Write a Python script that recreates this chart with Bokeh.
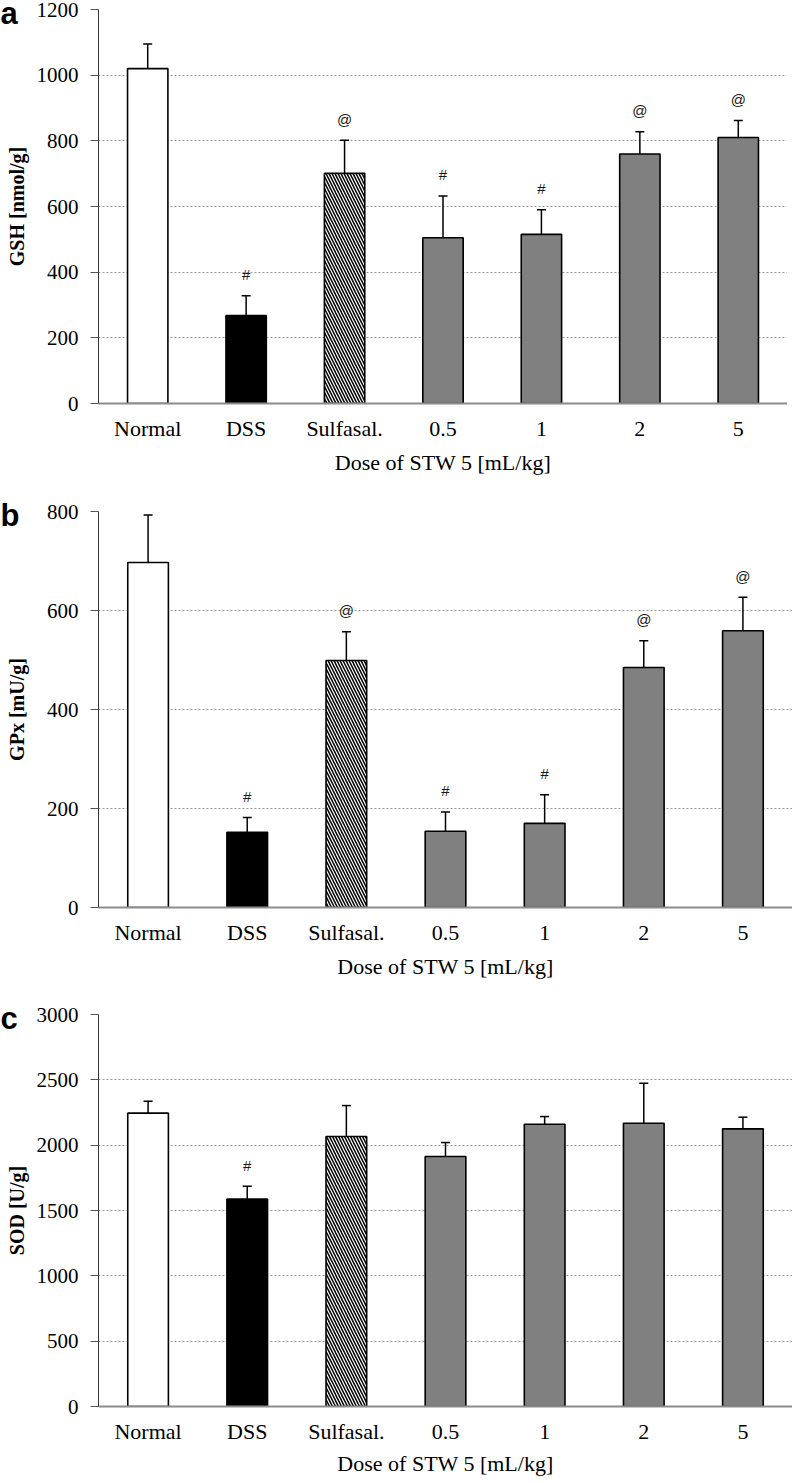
from bokeh.plotting import figure
from bokeh.models import FactorRange, Range1d, ColumnDataSource, Whisker, TeeHead, Title, FixedTicker
from bokeh.layouts import column
from bokeh.embed import file_html
from bokeh.resources import INLINE
from bokeh.core.properties import value

categories = ["Normal", "DSS", "Sulfasal.", "0.5", "1", "2", "5"]
fill_colors = ["white", "black", "white", "#808080", "#808080", "#808080", "#808080"]
hatches = [" ", " ", "\\", " ", " ", " ", " "]
dose_label = "Dose of STW 5 [mL/kg]"

gsh_mean = [1020, 268, 701, 505, 515, 760, 810]
gsh_err = [75, 60, 101, 127, 75, 68, 52]
gsh_marks = ["", "#", "@", "#", "#", "@", "@"]
gsh_ticks = [0, 200, 400, 600, 800, 1000, 1200]

gpx_mean = [697, 152, 499, 154, 170, 485, 559]
gpx_err = [96, 30, 58, 39, 58, 54, 68]
gpx_marks = ["", "#", "@", "#", "#", "@", "@"]
gpx_ticks = [0, 200, 400, 600, 800]

sod_mean = [2245, 1587, 2066, 1913, 2160, 2168, 2125]
sod_err = [91, 99, 237, 107, 59, 306, 89]
sod_marks = ["", "#", "", "", "", "", ""]
sod_ticks = [0, 500, 1000, 1500, 2000, 2500, 3000]


def make_panel(letter, ylabel, means, errs, marks, ticks,
               bl, fw, br, bt, fh, bb, ylab_standoff, dose_standoff):
    p = figure(x_range=FactorRange(factors=categories, range_padding=0),
               y_range=Range1d(ticks[0], ticks[-1]),
               frame_width=fw, frame_height=fh,
               min_border_left=bl, min_border_right=br,
               min_border_top=bt, min_border_bottom=bb,
               output_backend="svg", toolbar_location=None)
    p.outline_line_color = None
    p.xgrid.grid_line_color = None
    p.ygrid.grid_line_color = "#9a9a9a"
    p.ygrid.grid_line_dash = "2 2"
    p.ygrid.grid_line_width = 1

    upper = [m + e for m, e in zip(means, errs)]
    src = ColumnDataSource(dict(x=categories, top=means, upper=upper,
                                color=fill_colors, hatch=hatches, mark=marks))
    p.vbar(x="x", top="top", width=0.41, source=src, fill_color="color",
           line_color="black", line_width=1.6,
           hatch_pattern="hatch", hatch_color="black", hatch_scale=6,
           hatch_weight=1.5)
    p.add_layout(Whisker(base="x", lower="top", upper="upper", source=src,
                         line_color="black", line_width=1.5, lower_head=None,
                         upper_head=TeeHead(size=9, line_color="black", line_width=1.5)))
    p.text(x="x", y="upper", text="mark", source=src, text_align="center",
           text_baseline="middle", y_offset=-21, text_font=value("Liberation Sans"),
           text_font_size="15px", text_color="#1a1a1a")

    ya = p.yaxis[0]
    ya.ticker = FixedTicker(ticks=ticks)
    ya.minor_tick_line_color = None
    ya.major_tick_in = 0
    ya.major_tick_out = 8
    ya.major_tick_line_color = "#555555"
    ya.axis_line_color = "#333333"
    ya.axis_line_width = 1
    ya.major_label_standoff = 12
    ya.major_label_text_font = "Liberation Serif"
    ya.major_label_text_font_size = "21px"
    ya.major_label_text_color = "black"
    ya.axis_label = ylabel
    ya.axis_label_text_font = "Liberation Serif"
    ya.axis_label_text_font_style = "bold"
    ya.axis_label_text_font_size = "20px"
    ya.axis_label_text_color = "black"
    ya.axis_label_standoff = ylab_standoff

    xa = p.xaxis[0]
    xa.major_tick_line_color = None
    xa.minor_tick_line_color = None
    xa.axis_line_color = "#8c8c8c"
    xa.axis_line_width = 2
    xa.major_label_standoff = 6
    xa.major_label_text_font = "Liberation Serif"
    xa.major_label_text_font_size = "22px"
    xa.major_label_text_color = "black"

    # panel letter
    p.title.text = letter
    p.title.align = "left"
    p.title.offset = -bl
    p.title.standoff = -42
    p.title.text_font = "Liberation Sans"
    p.title.text_font_style = "bold"
    p.title.text_font_size = "31px"
    p.title.text_color = "black"

    # "Dose of STW 5" caption under the STW 5 groups
    p.add_layout(Title(text=dose_label, align="center", offset=fw * 3 / 14,
                       standoff=dose_standoff, vertical_align="middle",
                       text_font="Liberation Serif", text_font_style="normal",
                       text_font_size="22px", text_color="black"), "below")
    return p


pa = make_panel("a", "GSH [nmol/g]", gsh_mean, gsh_err, gsh_marks, gsh_ticks,
                98, 689, 0, 9, 394, 98, 6, 10)
pb = make_panel("b", "GPx [mU/g]", gpx_mean, gpx_err, gpx_marks, gpx_ticks,
                98, 694, 0, 10, 396, 97, 16, 10)
pc = make_panel("c", "SOD [U/g]", sod_mean, sod_err, sod_marks, sod_ticks,
                98, 694, 0, 10, 392, 77, 6, 6)

layout = column(pa, pb, pc, spacing=0)
open("out.html", "w").write(file_html(layout, INLINE))
